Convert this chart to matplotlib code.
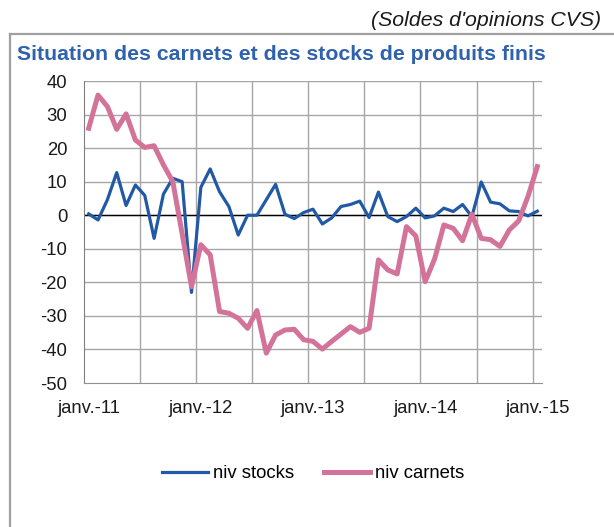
import matplotlib.pyplot as plt
from matplotlib.lines import Line2D

plt.rcParams['font.family'] = ['Liberation Sans', 'DejaVu Sans']
plt.rcParams['axes.unicode_minus'] = False

# Data (monthly, janv. 2011 -> janv. 2015)
months = list(range(49))
stocks = [0.4, -1.4, 4.6, 12.7, 2.9, 9.0, 5.9, -6.9, 6.3, 11.0, 10.0, -23.0,
          8.3, 13.8, 7.0, 2.6, -5.9, 0.0, 0.0, 4.6, 9.2, 0.3, -1.0, 0.8,
          1.8, -2.6, -0.8, 2.6, 3.2, 4.2, -0.7, 6.9, -0.4, -1.9, -0.4, 2.1,
          -0.8, -0.2, 2.1, 1.1, 3.2, -0.4, 9.9, 3.9, 3.4, 1.3, 1.1, -0.2, 1.2]
carnets = [25.9, 35.8, 32.4, 25.6, 30.2, 22.4, 20.2, 20.7, 15.0, 10.0, -5.5, -21.3,
           -8.8, -11.8, -28.7, -29.2, -30.7, -33.7, -28.4, -41.1, -35.7, -34.2, -34.0, -37.1,
           -37.6, -39.9, -37.6, -35.4, -33.2, -34.9, -33.7, -13.3, -16.3, -17.5, -3.4, -6.2,
           -19.8, -13.1, -2.9, -3.9, -7.6, 0.3, -6.9, -7.3, -9.3, -4.4, -1.7, 5.6, 14.5]
tick_pos = [0, 12, 24, 36, 48]
tick_labels = ["janv.-11", "janv.-12", "janv.-13", "janv.-14", "janv.-15"]

blue = '#2159A6'
pink = '#D4739A'
grid_c = '#A6A6A6'

fig = plt.figure(figsize=(6.14, 5.27), dpi=100)
ax = fig.add_axes([84 / 614, 1 - 383 / 527, (542 - 84) / 614, (383 - 81) / 527])

# frame around the chart (cut by the image edges)
fig.add_artist(Line2D([10 / 614, 1.0], [1 - 34 / 527] * 2, color='#A0A0A0', lw=1.6))
fig.add_artist(Line2D([10 / 614] * 2, [0.0, 1 - 34 / 527], color='#A0A0A0', lw=1.6))

fig.text(601 / 614, 1 - 21 / 527, "(Soldes d'opinions CVS)", ha='right', va='center',
         fontsize=15.3, style='italic', color='#1a1a1a')
fig.text(17 / 614, 1 - 55 / 527, "Situation des carnets et des stocks de produits finis",
         ha='left', va='center', fontsize=15.3, fontweight='bold', color='#2E62AD')

ax.set_xlim(-0.5, 48.5)
ax.set_ylim(-50, 40)
ax.set_yticks(range(-50, 41, 10))

for x in [5.5, 11.5, 17.5, 23.5, 29.5, 35.5, 41.5, 47.5]:
    ax.axvline(x, color=grid_c, lw=1, zorder=1)
for y in range(-40, 41, 10):
    ax.axhline(y, color=grid_c, lw=1, zorder=1)
ax.axhline(0, color='black', lw=1, zorder=2)

ax.plot(months, stocks, color=blue, lw=2.3, label='niv stocks', zorder=3)
ax.plot(months, carnets, color=pink, lw=3.6, label='niv carnets', zorder=4)

ax.set_xticks(tick_pos)
ax.set_xticklabels(tick_labels)
ax.tick_params(axis='both', length=0, labelsize=13.3, colors='#1a1a1a')
ax.tick_params(axis='y', pad=12)
ax.tick_params(axis='x', pad=12)

for s in ['top', 'right']:
    ax.spines[s].set_visible(False)
ax.spines['left'].set_color('#808080')
ax.spines['bottom'].set_color('#909090')

fig.legend(loc='center', bbox_to_anchor=(313 / 614, 1 - 474 / 527), ncol=2, frameon=False,
           fontsize=13.3, handlelength=2.5, handletextpad=0.25, columnspacing=1.6)

fig.savefig('out.png', dpi=100)
